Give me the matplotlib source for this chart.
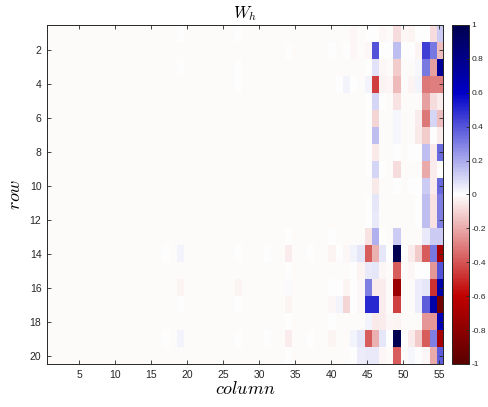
"""
Heatmap of the hidden weight matrix W_h (20 rows x 55 columns) with a red-white-blue colorbar.
"""

import numpy as np
import matplotlib.pyplot as plt
from matplotlib.colors import LinearSegmentedColormap

plt.rcParams['font.family'] = ['Liberation Sans', 'DejaVu Sans']
plt.rcParams['mathtext.fontset'] = 'cm'

n_rows = 20
n_cols = 55

# Most cells sit just below zero.
base_value = -0.015

# Columns 42..55, one list per row (rows 1..20).
block_first_col = 42
right_block = [
    [-0.015, -0.02, -0.015, 0.0, 0.0, -0.02, -0.01, -0.08, -0.02, -0.03, 0.0, 0.0, -0.08, 0.12],
    [0.0, -0.02, -0.015, -0.02, 0.4, 0.0, 0.0, 0.15, 0.0, 0.0, -0.03, 0.45, 0.32, -0.15],
    [-0.015, -0.015, -0.015, 0.0, 0.07, -0.02, -0.015, -0.12, -0.015, -0.015, 0.02, 0.32, -0.22, 0.75],
    [0.03, 0.0, -0.015, 0.03, -0.45, -0.03, -0.02, -0.16, -0.015, -0.03, 0.03, -0.32, -0.3, -0.3],
    [-0.015, -0.015, -0.015, 0.0, 0.1, 0.0, -0.015, -0.07, -0.015, -0.015, -0.015, -0.22, -0.08, -0.04],
    [-0.015, -0.015, -0.015, 0.0, -0.1, -0.015, -0.015, 0.02, -0.015, -0.015, -0.04, -0.32, 0.1, -0.15],
    [-0.015, -0.015, -0.015, 0.0, 0.15, -0.015, -0.015, 0.02, -0.015, -0.015, -0.05, -0.12, 0.0, -0.04],
    [-0.015, -0.015, -0.015, 0.0, -0.05, -0.015, -0.015, 0.0, -0.015, 0.0, 0.0, 0.15, -0.05, 0.35],
    [-0.015, -0.015, -0.015, 0.0, 0.1, 0.0, -0.015, -0.08, -0.015, -0.015, -0.015, -0.2, -0.04, 0.0],
    [-0.015, -0.015, -0.015, -0.015, -0.05, -0.015, -0.015, 0.0, -0.015, 0.0, 0.0, 0.12, -0.04, 0.35],
    [-0.015, -0.015, -0.015, 0.0, 0.06, -0.015, -0.015, -0.015, -0.015, -0.015, 0.0, 0.15, -0.07, 0.3],
    [-0.015, -0.015, -0.015, 0.0, 0.05, -0.015, -0.015, -0.015, -0.015, -0.015, 0.0, 0.15, -0.07, 0.3],
    [-0.015, -0.015, -0.015, -0.07, 0.18, 0.0, -0.015, 0.12, -0.015, -0.015, -0.015, 0.05, 0.12, 0.12],
    [-0.02, 0.03, 0.06, -0.38, -0.18, 0.06, 0.0, 0.98, 0.0, -0.04, -0.12, -0.38, 0.32, -0.7],
    [-0.015, 0.0, -0.03, 0.05, 0.06, -0.02, -0.015, -0.38, -0.015, -0.02, 0.0, 0.0, -0.25, 0.4],
    [-0.03, 0.0, -0.02, 0.3, -0.04, -0.04, -0.015, -0.75, -0.015, -0.015, 0.04, 0.06, -0.48, 0.7],
    [-0.1, 0.0, -0.02, 0.5, 0.5, -0.04, -0.015, -0.45, -0.015, -0.015, 0.04, 0.38, 0.7, -0.9],
    [-0.015, -0.015, -0.015, 0.03, -0.05, -0.04, -0.02, -0.03, -0.015, -0.015, -0.015, -0.25, -0.25, 0.65],
    [-0.015, 0.03, 0.06, -0.38, -0.18, 0.06, 0.0, 0.98, 0.0, -0.04, -0.12, -0.38, 0.3, -0.7],
    [-0.015, 0.0, 0.04, 0.05, 0.05, -0.02, -0.015, -0.38, -0.015, 0.02, 0.0, -0.02, -0.2, 0.38],
]

# A few odd cells further left (1-based row / column).
sparse_rows = [1, 3, 1, 3, 4, 2, 2, 4, 13, 13, 14, 14, 14, 14, 14, 14, 14, 14, 15,
               16, 16, 16, 16, 16, 17, 17, 17, 17, 17, 18, 18, 19, 19, 19, 19, 19, 19, 19, 20]
sparse_cols = [19, 19, 27, 27, 27, 34, 40, 41, 34, 40, 17, 19, 27, 31, 34, 37, 40, 41, 34,
               19, 27, 34, 40, 41, 19, 27, 34, 40, 41, 34, 40, 17, 19, 27, 31, 34, 37, 40, 34]
sparse_vals = [0.0, 0.0, 0.0, 0.0, 0.0, 0.0, 0.0, 0.0, 0.0, 0.0, 0.0, 0.03, 0.0, 0.0, -0.04, 0.0, -0.03, 0.0, 0.0,
               -0.03, -0.03, 0.01, 0.0, 0.0, 0.0, 0.0, -0.03, -0.02, 0.03, 0.0, 0.0, 0.0, 0.03, 0.0, 0.0, -0.04, 0.0, -0.03, 0.0]

x_ticks = [5, 10, 15, 20, 25, 30, 35, 40, 45, 50, 55]
y_ticks = [2, 4, 6, 8, 10, 12, 14, 16, 18, 20]
cbar_ticks = [-1, -0.8, -0.6, -0.4, -0.2, 0, 0.2, 0.4, 0.6, 0.8, 1]

# Build the matrix.
W = np.full((n_rows, n_cols), base_value)
W[:, block_first_col - 1:] = np.array(right_block)
for r, c, v in zip(sparse_rows, sparse_cols, sparse_vals):
    W[r - 1, c - 1] = v

cmap = LinearSegmentedColormap.from_list(
    'rwb', [(0.0, '#5a0000'), (0.2, '#c00000'), (0.5, '#ffffff'),
            (0.8, '#0000c8'), (1.0, '#00004f')])

fig = plt.figure(figsize=(4.89, 4.07), dpi=100)
ax = fig.add_axes([0.0961, 0.1057, 0.8099, 0.8329])
cax = fig.add_axes([0.9243, 0.1057, 0.0348, 0.8329])

im = ax.imshow(W, cmap=cmap, vmin=-1, vmax=1, aspect='auto',
               interpolation='nearest', extent=(0.5, n_cols + 0.5, n_rows + 0.5, 0.5))

ax.set_xticks(x_ticks)
ax.set_yticks(y_ticks)
ax.tick_params(direction='in', length=3, width=0.6, labelsize=7.5, colors='#262626',
               top=True, right=True, pad=4)
for s in ax.spines.values():
    s.set_color('#262626')
    s.set_linewidth(0.7)

ax.set_title('$W_h$', fontsize=12, pad=5)
ax.set_xlabel('$column$', fontsize=13, labelpad=1)
ax.set_ylabel('$row$', fontsize=13, labelpad=4)

cb = fig.colorbar(im, cax=cax, ticks=cbar_ticks)
cb.ax.set_yticklabels(['-1', '-0.8', '-0.6', '-0.4', '-0.2', '0', '0.2', '0.4', '0.6', '0.8', '1'])
cb.ax.tick_params(direction='in', length=2.5, width=0.6, labelsize=6, colors='#262626', pad=2)
cb.outline.set_edgecolor('#262626')
cb.outline.set_linewidth(0.7)

plt.savefig('out.png', dpi=100)
